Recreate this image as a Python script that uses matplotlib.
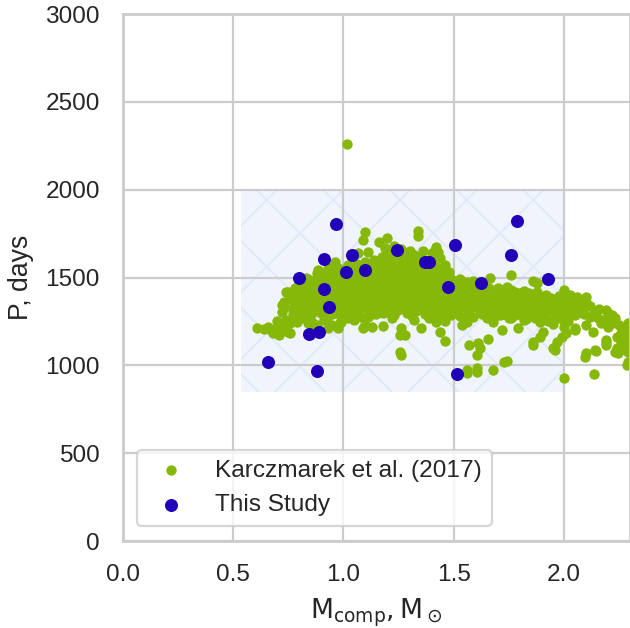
import numpy as np
import matplotlib
matplotlib.use("Agg")
import matplotlib.pyplot as plt
from matplotlib.patches import Rectangle
import seaborn as sns

# Karczmarek et al. (2017) population: dense main band
kz_band = [
    (0.80, 1390), (0.80, 1420), (0.80, 1450),
    (0.82, 1370), (0.82, 1410), (0.82, 1440), (0.82, 1470),
    (0.84, 1380), (0.84, 1420), (0.84, 1455), (0.84, 1490),
    (0.86, 1360), (0.86, 1400), (0.86, 1440), (0.86, 1480),
    (0.88, 1390), (0.88, 1430), (0.88, 1465), (0.88, 1500),
    (0.90, 1370), (0.90, 1410), (0.90, 1450), (0.90, 1490), (0.90, 1520),
    (0.92, 1385), (0.92, 1425), (0.92, 1460), (0.92, 1500),
    (0.94, 1360), (0.94, 1400), (0.94, 1440), (0.94, 1475), (0.94, 1515),
    (0.96, 1380), (0.96, 1420), (0.96, 1455), (0.96, 1495), (0.96, 1530),
    (0.98, 1365), (0.98, 1405), (0.98, 1445), (0.98, 1480), (0.98, 1520),
    (1.00, 1350), (1.00, 1390), (1.00, 1430), (1.00, 1470), (1.00, 1505), (1.00, 1545),
    (1.02, 1375), (1.02, 1415), (1.02, 1455), (1.02, 1490), (1.02, 1530),
    (1.04, 1360), (1.04, 1400), (1.04, 1440), (1.04, 1480), (1.04, 1515), (1.04, 1555),
    (1.06, 1345), (1.06, 1385), (1.06, 1425), (1.06, 1465), (1.06, 1500), (1.06, 1540), (1.06, 1580),
    (1.08, 1370), (1.08, 1410), (1.08, 1450), (1.08, 1490), (1.08, 1525), (1.08, 1565),
    (1.10, 1355), (1.10, 1395), (1.10, 1435), (1.10, 1475), (1.10, 1510), (1.10, 1550), (1.10, 1590),
    (1.12, 1340), (1.12, 1380), (1.12, 1420), (1.12, 1460), (1.12, 1500), (1.12, 1540), (1.12, 1575),
    (1.14, 1365), (1.14, 1405), (1.14, 1445), (1.14, 1485), (1.14, 1525), (1.14, 1560), (1.14, 1600),
    (1.16, 1350), (1.16, 1390), (1.16, 1430), (1.16, 1470), (1.16, 1510), (1.16, 1545), (1.16, 1585),
    (1.18, 1335), (1.18, 1375), (1.18, 1415), (1.18, 1455), (1.18, 1495), (1.18, 1535), (1.18, 1575), (1.18, 1615),
    (1.20, 1360), (1.20, 1400), (1.20, 1440), (1.20, 1480), (1.20, 1520), (1.20, 1560), (1.20, 1600), (1.20, 1640),
    (1.22, 1345), (1.22, 1385), (1.22, 1425), (1.22, 1465), (1.22, 1505), (1.22, 1545), (1.22, 1585), (1.22, 1625),
    (1.24, 1330), (1.24, 1370), (1.24, 1410), (1.24, 1450), (1.24, 1490), (1.24, 1530), (1.24, 1570), (1.24, 1610),
    (1.26, 1355), (1.26, 1395), (1.26, 1435), (1.26, 1475), (1.26, 1515), (1.26, 1555), (1.26, 1595), (1.26, 1635),
    (1.28, 1340), (1.28, 1380), (1.28, 1420), (1.28, 1460), (1.28, 1500), (1.28, 1540), (1.28, 1580), (1.28, 1620),
    (1.30, 1325), (1.30, 1365), (1.30, 1405), (1.30, 1445), (1.30, 1485), (1.30, 1525), (1.30, 1565), (1.30, 1600),
    (1.32, 1350), (1.32, 1390), (1.32, 1430), (1.32, 1470), (1.32, 1510), (1.32, 1550), (1.32, 1590),
    (1.34, 1335), (1.34, 1375), (1.34, 1415), (1.34, 1455), (1.34, 1495), (1.34, 1535), (1.34, 1575), (1.34, 1615),
    (1.36, 1320), (1.36, 1360), (1.36, 1400), (1.36, 1440), (1.36, 1480), (1.36, 1520), (1.36, 1560), (1.36, 1600),
    (1.38, 1345), (1.38, 1385), (1.38, 1425), (1.38, 1465), (1.38, 1505), (1.38, 1545), (1.38, 1585),
    (1.40, 1330), (1.40, 1370), (1.40, 1410), (1.40, 1450), (1.40, 1490), (1.40, 1530), (1.40, 1570), (1.40, 1610),
    (1.42, 1315), (1.42, 1355), (1.42, 1395), (1.42, 1435), (1.42, 1475), (1.42, 1515), (1.42, 1560),
    (1.44, 1340), (1.44, 1380), (1.44, 1420), (1.44, 1460), (1.44, 1500), (1.44, 1540),
    (1.46, 1325), (1.46, 1365), (1.46, 1405), (1.46, 1445), (1.46, 1485), (1.46, 1520),
    (1.48, 1310), (1.48, 1350), (1.48, 1390), (1.48, 1430), (1.48, 1470),
    (1.50, 1335), (1.50, 1375), (1.50, 1415), (1.50, 1455),
    (1.52, 1320), (1.52, 1360), (1.52, 1400), (1.52, 1440), (1.52, 1470),
    (1.54, 1340), (1.54, 1380), (1.54, 1420), (1.54, 1455),
    (1.56, 1325), (1.56, 1365), (1.56, 1405), (1.56, 1440),
    (1.58, 1345), (1.58, 1385), (1.58, 1425), (1.58, 1460),
    (1.60, 1330), (1.60, 1370), (1.60, 1410), (1.60, 1445),
    (1.62, 1315), (1.62, 1355), (1.62, 1395), (1.62, 1435),
    (1.64, 1340), (1.64, 1380), (1.64, 1420), (1.64, 1450),
    (1.66, 1325), (1.66, 1365), (1.66, 1405), (1.66, 1440),
    (1.68, 1345), (1.68, 1385), (1.68, 1425),
    (1.70, 1330), (1.70, 1370), (1.70, 1410), (1.70, 1440),
    (1.72, 1315), (1.72, 1355), (1.72, 1395), (1.72, 1430),
    (1.74, 1340), (1.74, 1380), (1.74, 1415),
    (1.76, 1325), (1.76, 1365), (1.76, 1400), (1.76, 1430),
    (1.78, 1310), (1.78, 1350), (1.78, 1390), (1.78, 1420),
    (1.80, 1335), (1.80, 1375), (1.80, 1410),
    (1.82, 1320), (1.82, 1360), (1.82, 1395), (1.82, 1425),
    (1.84, 1305), (1.84, 1345), (1.84, 1385), (1.84, 1415),
    (1.86, 1330), (1.86, 1370), (1.86, 1405),
    (1.88, 1315), (1.88, 1355), (1.88, 1390), (1.88, 1420),
    (1.90, 1300), (1.90, 1340), (1.90, 1380),
    (1.92, 1325), (1.92, 1365), (1.92, 1400),
    (1.94, 1310), (1.94, 1350), (1.94, 1385),
    (1.96, 1295), (1.96, 1335), (1.96, 1375),
    (1.98, 1320), (1.98, 1360), (1.98, 1395),
    (2.00, 1305), (2.00, 1345), (2.00, 1380),
    (2.03, 1290), (2.03, 1330), (2.03, 1365),
    (2.06, 1310), (2.06, 1350),
    (2.09, 1295), (2.09, 1335),
]

# low-mass tail and scattered systems below 1.4 Msun
kz_left = [
    (0.61, 1214), (0.64, 1205), (0.66, 1220), (0.67, 1200), (0.68, 1184), (0.69, 1205),
    (0.70, 1190), (0.70, 1250), (0.71, 1172), (0.72, 1220), (0.72, 1303), (0.72, 1343),
    (0.73, 1230), (0.73, 1332), (0.73, 1360), (0.74, 1212), (0.74, 1260), (0.74, 1417),
    (0.75, 1190), (0.75, 1417), (0.76, 1184), (0.76, 1240), (0.76, 1380), (0.77, 1290),
    (0.77, 1315), (0.77, 1326), (0.78, 1275), (0.78, 1350), (0.78, 1440), (0.79, 1247),
    (0.79, 1320), (0.79, 1389), (0.79, 1400), (0.80, 1275), (0.80, 1360), (0.80, 1480),
    (0.81, 1270), (0.81, 1300), (0.81, 1440), (0.82, 1340), (0.83, 1390), (0.83, 1468),
    (0.83, 1500), (0.84, 1240), (0.84, 1286), (0.85, 1332), (0.85, 1360), (0.86, 1247),
    (0.86, 1300), (0.86, 1332), (0.87, 1210), (0.88, 1230), (0.88, 1330), (0.88, 1474),
    (0.88, 1525), (0.885, 1514), (0.885, 1542), (0.90, 1300), (0.91, 1260), (0.92, 1340),
    (0.92, 1468), (0.925, 1275), (0.925, 1326), (0.93, 1212), (0.93, 1554), (0.94, 1400),
    (0.95, 1230), (0.95, 1290), (0.96, 1330), (0.96, 1588), (0.97, 1300), (0.975, 1212),
    (0.975, 1554), (0.985, 1241), (0.99, 1247), (0.99, 1275), (1.00, 1270), (1.00, 1310),
    (1.01, 1286), (1.016, 2259), (1.02, 1270), (1.02, 1360), (1.02, 1571), (1.03, 1320),
    (1.04, 1290), (1.05, 1258), (1.05, 1270), (1.06, 1300), (1.065, 1640), (1.07, 1286),
    (1.07, 1383), (1.08, 1275), (1.09, 1212), (1.09, 1330), (1.09, 1713), (1.10, 1230),
    (1.10, 1759), (1.11, 1275), (1.11, 1320), (1.11, 1645), (1.13, 1218), (1.13, 1290),
    (1.14, 1343), (1.15, 1295), (1.15, 1340), (1.16, 1702), (1.17, 1320), (1.175, 1617),
    (1.18, 1224), (1.18, 1300), (1.19, 1668), (1.20, 1303), (1.20, 1330), (1.20, 1725),
    (1.21, 1300), (1.22, 1270), (1.23, 1285), (1.23, 1680), (1.25, 1315), (1.256, 1076),
    (1.256, 1172), (1.26, 1059), (1.26, 1212), (1.26, 1660), (1.27, 1330), (1.28, 1172),
    (1.29, 1300), (1.30, 1650), (1.31, 1280), (1.32, 1258), (1.32, 1630), (1.33, 1310),
    (1.34, 1736), (1.34, 1765), (1.35, 1212), (1.36, 1650), (1.37, 1290), (1.39, 1270),
]

# scattered systems above 1.4 Msun
kz_right = [
    (1.40, 1640), (1.41, 1300), (1.415, 1656), (1.42, 1247), (1.42, 1673), (1.43, 1285),
    (1.43, 1645), (1.44, 1190), (1.44, 1611), (1.45, 1275), (1.46, 1138), (1.46, 1252),
    (1.46, 1570), (1.47, 1300), (1.48, 1530), (1.49, 1285), (1.49, 1491), (1.51, 1300),
    (1.51, 1480), (1.53, 1280), (1.53, 1490), (1.54, 1230), (1.55, 1275), (1.56, 956),
    (1.56, 973), (1.56, 1247), (1.56, 1475), (1.57, 1116), (1.57, 1295), (1.59, 1275),
    (1.59, 1480), (1.605, 962), (1.605, 985), (1.605, 1059), (1.61, 1127), (1.62, 1099),
    (1.62, 1470), (1.63, 1290), (1.65, 1270), (1.655, 1150), (1.665, 1497), (1.67, 1300),
    (1.68, 973), (1.68, 1247), (1.69, 1280), (1.71, 1286), (1.72, 1201), (1.73, 1019),
    (1.73, 1295), (1.74, 1025), (1.74, 1446), (1.75, 1270), (1.76, 1270), (1.76, 1514),
    (1.77, 1300), (1.78, 1286), (1.79, 1212), (1.81, 1285), (1.82, 1258), (1.82, 1417),
    (1.83, 1265), (1.85, 1290), (1.86, 1116), (1.86, 1133), (1.86, 1480), (1.87, 1270),
    (1.88, 1468), (1.89, 1161), (1.89, 1245), (1.905, 1190), (1.91, 1280), (1.93, 1255),
    (1.95, 1099), (1.95, 1235), (1.96, 1087), (1.97, 1133), (1.97, 1275), (1.97, 1343),
    (1.99, 1161), (1.99, 1265), (2.00, 928), (2.00, 1218), (2.00, 1429), (2.01, 1184),
    (2.01, 1326), (2.02, 1250), (2.02, 1380), (2.03, 1400), (2.04, 1360), (2.05, 1201),
    (2.05, 1212), (2.05, 1286), (2.06, 1389), (2.07, 1303), (2.08, 1340), (2.095, 1047),
    (2.10, 1070), (2.10, 1230), (2.10, 1360), (2.10, 1389), (2.12, 1275), (2.12, 1340),
    (2.13, 1190), (2.13, 1286), (2.135, 950), (2.14, 1087), (2.14, 1300), (2.145, 1081),
    (2.155, 1270), (2.16, 1320), (2.17, 1241), (2.18, 1258), (2.19, 1116), (2.19, 1133),
    (2.19, 1144), (2.19, 1315), (2.20, 1218), (2.20, 1300), (2.22, 1241), (2.22, 1286),
    (2.23, 1076), (2.23, 1270), (2.24, 1099), (2.24, 1160), (2.245, 1070), (2.25, 1087),
    (2.25, 1230), (2.26, 1140), (2.26, 1184), (2.27, 1099), (2.27, 1210), (2.28, 1087),
    (2.28, 1160), (2.285, 1002), (2.29, 1019), (2.29, 1076), (2.29, 1130), (2.29, 1200),
    (2.29, 1240),
]

# systems from this study
study_mass = [0.658, 0.88, 0.965, 1.04, 0.91, 0.80, 1.01, 1.10, 0.91, 0.935, 0.845,
              0.89, 1.243, 1.37, 1.39, 1.506, 1.787, 1.76, 1.927, 1.624, 1.474, 1.515]
study_period = [1019, 970, 1804, 1628, 1603, 1497, 1531, 1542, 1434, 1332, 1178,
                1190, 1656, 1590, 1590, 1685, 1821, 1628, 1491, 1468, 1446, 950]

# highlighted parameter window
box_mass = (0.535, 2.0)
box_period = (850, 2000)

x_ticks = [0.0, 0.5, 1.0, 1.5, 2.0]
y_ticks = [0, 500, 1000, 1500, 2000, 2500, 3000]

green = "#85b808"
blue = "#2200b8"

sns.set_theme(style="whitegrid", context="paper")
plt.rcParams["font.family"] = ["Liberation Sans", "DejaVu Sans"]
plt.rcParams["mathtext.fontset"] = "dejavusans"
plt.rcParams["hatch.linewidth"] = 0.8

kz = np.array(kz_band + kz_left + kz_right, dtype=float)

fig = plt.figure(figsize=(3.15, 3.14), dpi=200)
ax = fig.add_axes([0.195, 0.1385, 0.805, 0.839])

ax.add_patch(Rectangle((box_mass[0], box_period[0]),
                       box_mass[1] - box_mass[0], box_period[1] - box_period[0],
                       facecolor="#f0f4fd", edgecolor="#e3eaf8", hatch="x",
                       linewidth=0, zorder=0.3))

ax.scatter(kz[:, 0], kz[:, 1], s=14, color=green, linewidths=0,
           label="Karczmarek et al. (2017)", zorder=2)
ax.scatter(study_mass, study_period, s=22, color=blue, linewidths=0,
           label="This Study", zorder=3)

ax.set_xlim(0, 2.3)
ax.set_ylim(0, 3000)
ax.set_xticks(x_ticks)
ax.set_yticks(y_ticks)
ax.set_xlabel(r"$\mathrm{M_{comp}, M_\odot}$")
ax.set_ylabel("P, days")

ax.legend(loc="lower left", bbox_to_anchor=(0.0276, 0.0285), borderaxespad=0)

fig.savefig("out.png", dpi=200)
